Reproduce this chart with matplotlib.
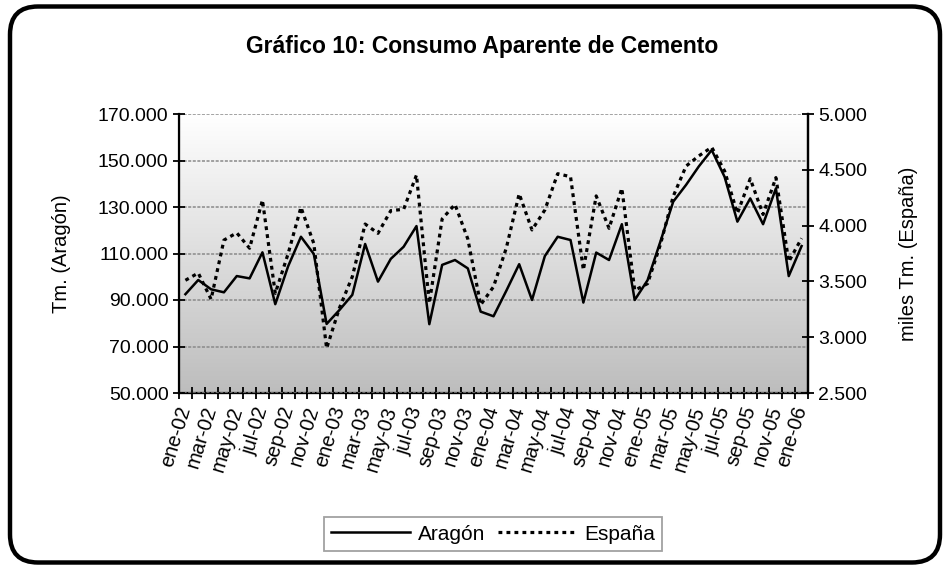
import matplotlib.pyplot as plt
import numpy as np
from matplotlib.patches import FancyBboxPatch
from matplotlib.colors import LinearSegmentedColormap
from matplotlib.ticker import FuncFormatter

plt.rcParams['font.family'] = ['Liberation Sans', 'DejaVu Sans']

# meses de ene-02 a ene-06
meses = ['ene', 'feb', 'mar', 'abr', 'may', 'jun', 'jul', 'ago', 'sep', 'oct', 'nov', 'dic']
anios = ['02', '03', '04', '05', '06']
fechas = [f"{m}-{a}" for a in anios for m in meses][:49]

# Tm. (Aragón)
aragon = [92500, 98600, 94600, 93300, 100300, 99300, 110500, 88200, 104500, 117200,
          109800, 79700, 85700, 92200, 114100, 97900, 107700, 112900, 121800, 79600,
          105100, 107200, 103600, 85000, 83000, 94000, 105400, 90000, 108900, 117200,
          115800, 88900, 110400, 107200, 122600, 90000, 98500, 115100, 132300, 139500,
          147500, 154500, 143000, 123700, 133700, 122600, 138000, 100300, 113200]

# miles Tm. (España)
espana = [3510, 3575, 3340, 3870, 3935, 3797, 4229, 3393, 3748, 4164,
          3840, 2900, 3262, 3542, 4014, 3931, 4134, 4146, 4453, 3304,
          4060, 4190, 3880, 3290, 3452, 3800, 4285, 3961, 4140, 4465,
          4438, 3602, 4266, 3976, 4334, 3420, 3480, 3830, 4262, 4533,
          4625, 4702, 4490, 4110, 4420, 4100, 4430, 3677, 3886]

x = np.arange(len(fechas))


def miles(v, pos):
    return f"{int(round(v)):,}".replace(",", ".")


fig = plt.figure(figsize=(9.48, 5.67), dpi=100, facecolor='white')

ax = fig.add_axes([179 / 948, 1 - 393 / 567, 629 / 948, 279 / 567])
ax.set_xlim(-0.5, len(fechas) - 0.5)
ax.set_ylim(50000, 170000)

# fondo degradado
cmap = LinearSegmentedColormap.from_list('fondo', ['#bdbdbd', '#ffffff'])
ax.imshow(np.linspace(0, 1, 256).reshape(-1, 1), cmap=cmap, origin='lower',
          extent=[-0.5, len(fechas) - 0.5, 50000, 170000], aspect='auto', zorder=0)

ax.set_yticks(range(50000, 170001, 20000))
ax.yaxis.set_major_formatter(FuncFormatter(miles))
ax.yaxis.grid(True, color='#8a8a8a', linestyle=(0, (2, 1)), lw=1.1, zorder=1)
ax.set_axisbelow(False)

ax.set_xticks(x[::2])
ax.set_xticklabels(fechas[::2], rotation=73, ha='right', va='center',
                   rotation_mode='anchor', fontsize=14.5)
ax.set_xticks(np.arange(-0.5, len(fechas)), minor=True)
ax.tick_params(axis='x', which='major', length=0, pad=10)
ax.tick_params(axis='x', which='minor', direction='inout', length=9, width=1.3)
ax.tick_params(axis='y', direction='inout', length=9, width=1.3, labelsize=14, pad=3)

for s in ['left', 'right', 'bottom']:
    ax.spines[s].set_linewidth(1.6)
ax.spines['top'].set_visible(False)

l1, = ax.plot(x, aragon, color='black', lw=1.8, zorder=3, label='Aragón')

ax2 = ax.twinx()
ax2.set_ylim(2500, 5000)
ax2.set_yticks(range(2500, 5001, 500))
ax2.yaxis.set_major_formatter(FuncFormatter(miles))
ax2.tick_params(axis='y', direction='inout', length=9, width=1.3, labelsize=14, pad=3)
ax2.spines['top'].set_visible(False)
ax2.spines['right'].set_linewidth(1.6)
l2, = ax2.plot(x, espana, color='black', lw=2.3, linestyle=(0, (1.2, 1.3)),
               zorder=3, label='España')

ax.set_ylabel('Tm. (Aragón)', fontsize=14.5)
ax.yaxis.set_label_coords(-0.172, 0.5)
ax2.set_ylabel('miles Tm. (España)', fontsize=14.5)
ax2.yaxis.set_label_coords(1.145, 0.5)

fig.text(482 / 948, 1 - 46 / 567, 'Gráfico 10: Consumo Aparente de Cemento',
         ha='center', va='center', fontsize=16.5, fontweight='bold')

leg = fig.legend(handles=[l1, l2], loc='center', bbox_to_anchor=(493 / 948, 1 - 534 / 567),
                 ncol=2, fontsize=15, fancybox=False, edgecolor='#8a8a8a',
                 handlelength=3.8, columnspacing=0.6, handletextpad=0.35,
                 borderpad=0.35, borderaxespad=0)
leg.get_frame().set_linewidth(1.3)

# marco redondeado
marco = FancyBboxPatch((0.10, 0.045), 9.30, 5.56,
                       boxstyle='round,pad=0,rounding_size=0.28',
                       transform=fig.dpi_scale_trans, lw=3.2,
                       ec='black', fc='none', zorder=10)
fig.patches.append(marco)

plt.savefig('out.png', dpi=100, facecolor='white')
